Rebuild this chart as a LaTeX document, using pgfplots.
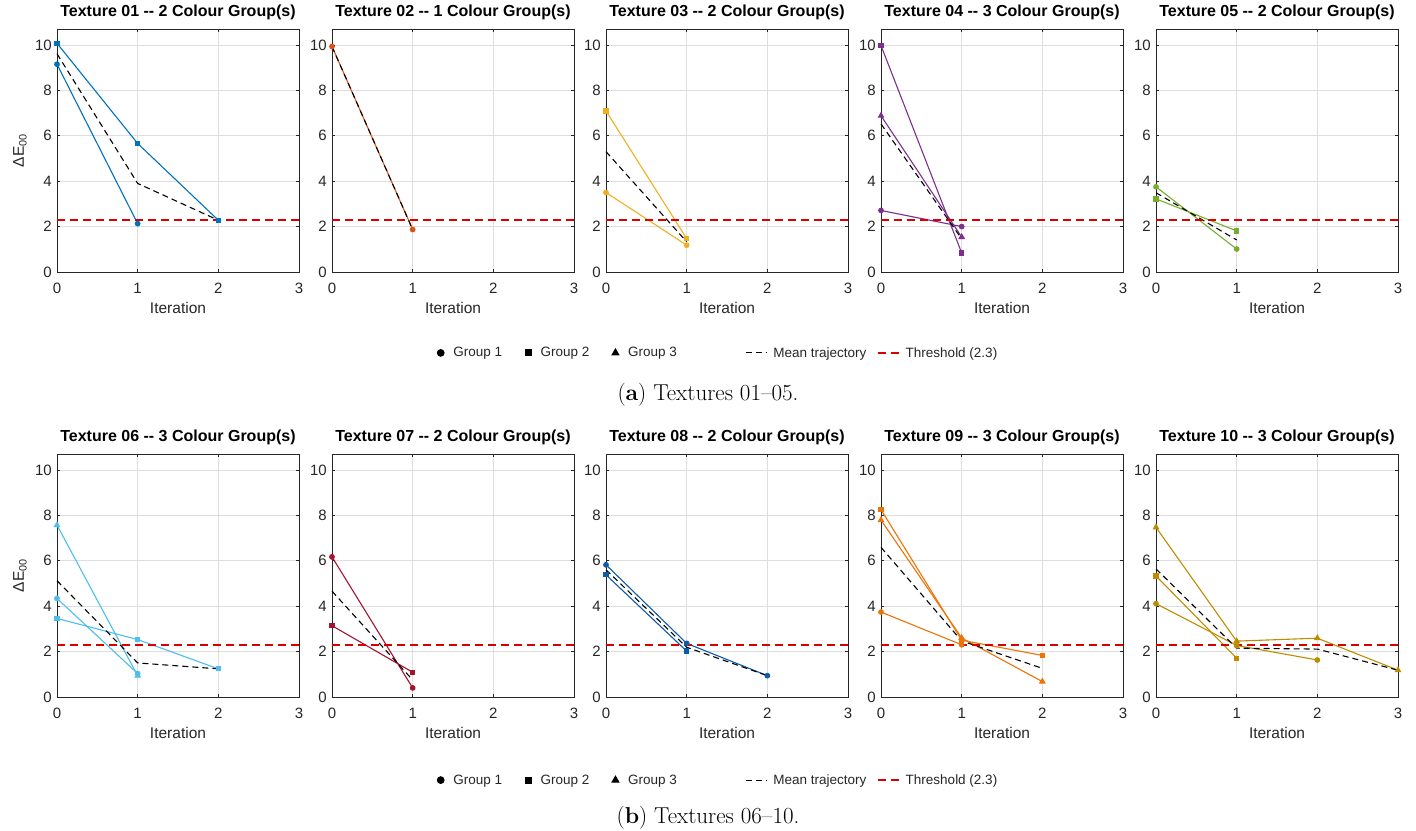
\documentclass[border=0pt]{standalone}
\usepackage{fontspec}
\usepackage{pgfplots}
\pgfplotsset{compat=1.18}
\newfontfamily\arialfont{Liberation Sans}

\definecolor{c01}{rgb}{0,0.447,0.741}
\definecolor{c02}{rgb}{0.85,0.325,0.098}
\definecolor{c03}{rgb}{0.929,0.694,0.125}
\definecolor{c04}{rgb}{0.494,0.184,0.556}
\definecolor{c05}{rgb}{0.466,0.674,0.188}
\definecolor{c06}{rgb}{0.301,0.745,0.933}
\definecolor{c07}{rgb}{0.635,0.078,0.184}
\definecolor{c08}{rgb}{0.05,0.36,0.66}
\definecolor{c09}{rgb}{0.93,0.45,0.02}
\definecolor{c10}{rgb}{0.75,0.55,0.0}
\definecolor{axgray}{gray}{0.15}
\definecolor{thrred}{rgb}{0.85,0.0,0.0}

\pgfplotsset{
  panel/.style={
    scale only axis, width=242pt, height=243pt,
    xmin=0, xmax=3, ymin=0, ymax=10.7,
    xtick={0,1,2,3}, ytick={0,2,...,10},
    grid=major, major grid style={draw=black!13, line width=0.7pt},
    axis line style={draw=axgray, line width=0.8pt},
    tick align=inside, major tick length=3pt,
    tick style={draw=axgray, line width=0.6pt},
    clip=false,
    /pgf/number format/assume math mode=true,
    tick label style={font=\arialfont\fontsize{15}{17}\selectfont, text=axgray},
    xticklabel style={anchor=center, yshift=-16pt, inner sep=0pt},
    yticklabel style={anchor=east, xshift=-5pt, inner sep=0pt},
    label style={font=\arialfont\fontsize{15.5}{17}\selectfont, text=axgray},
    xlabel={Iteration},
    xlabel style={at={(axis description cs:0.5,-0.148)}, anchor=center},
    ylabel style={at={(axis description cs:-0.153,0.5)}, anchor=center},
    title style={font=\arialfont\bfseries\fontsize{16}{18}\selectfont,
      at={(axis description cs:0.5,1)}, anchor=south, yshift=2.5pt, inner sep=0pt},
    every axis plot/.append style={line width=1.1pt},
  },
  g1/.style={mark=*, mark size=2.3pt},
  g2/.style={mark=square*, mark size=2.1pt},
  g3/.style={mark=triangle*, mark size=2.9pt},
  meanline/.style={color=black, line width=1.1pt, dash pattern=on 6pt off 4pt},
  thrline/.style={color=thrred, line width=1.5pt, dash pattern=on 8pt off 5pt},
  mleg/.style={legend image code/.code={\draw[##1] plot coordinates {(0pt,0pt)}; \path (-3.5pt,0pt) (9pt,0pt);}},
  lleg/.style={legend image code/.code={\draw[##1] (0pt,0pt) -- (21pt,0pt); \path (24pt,0pt);}},
  legbase/.style={legend cell align=left,
    legend style={anchor=west, draw=none, fill=none, inner sep=0pt, legend columns=-1,
      font=\arialfont\fontsize{13.5}{16}\selectfont, text=axgray, nodes={inner sep=3pt}}},
}

\begin{document}
\begin{tikzpicture}
\useasboundingbox (0pt,0pt) rectangle (1416pt,830pt);

% ---------- row (a) ----------
\begin{axis}[panel, at={(57pt,558pt)}, title={Texture 01 -{}- 2 Colour Group(s)},
  ylabel={ΔE\textsubscript{00}}, legbase,
  legend style={at={(axis description cs:1.568,-0.333)}, /tikz/every even column/.append style={column sep=19pt}}]
\addlegendimage{mleg, black, mark=*, mark size=3.3pt}\addlegendentry{Group 1}
\addlegendimage{mleg, black, mark=square*, mark size=3pt}\addlegendentry{Group 2}
\addlegendimage{mleg, black, mark=triangle*, mark size=3.8pt}\addlegendentry{Group 3}
\addplot[c01, g1] coordinates {(0,9.15)(1,2.13)};
\addplot[c01, g2] coordinates {(0,10.07)(1,5.66)(2,2.28)};
\addplot[meanline] coordinates {(0,9.61)(1,3.9)(2,2.28)};
\addplot[thrline] coordinates {(0,2.3)(3,2.3)};
\end{axis}

\begin{axis}[panel, at={(332pt,558pt)}, title={Texture 02 -{}- 1 Colour Group(s)}, legbase,
  legend style={at={(axis description cs:1.707,-0.333)}, /tikz/every even column/.append style={column sep=8pt}}]
\addlegendimage{lleg, black, line width=1.1pt, dash pattern=on 6pt off 4pt}\addlegendentry{Mean trajectory}
\addlegendimage{lleg, thrred, line width=1.3pt, dash pattern=on 8pt off 5pt}\addlegendentry{Threshold (2.3)}
\addplot[c02, g1] coordinates {(0,9.93)(1,1.87)};
\addplot[meanline] coordinates {(0,9.93)(1,1.87)};
\addplot[thrline] coordinates {(0,2.3)(3,2.3)};
\end{axis}

\begin{axis}[panel, at={(606pt,558pt)}, title={Texture 03 -{}- 2 Colour Group(s)}]
\addplot[c03, g1] coordinates {(0,3.5)(1,1.18)};
\addplot[c03, g2] coordinates {(0,7.09)(1,1.47)};
\addplot[meanline] coordinates {(0,5.3)(1,1.33)};
\addplot[thrline] coordinates {(0,2.3)(3,2.3)};
\end{axis}

\begin{axis}[panel, at={(881pt,558pt)}, title={Texture 04 -{}- 3 Colour Group(s)}]
\addplot[c04, g1] coordinates {(0,2.71)(1,2.0)};
\addplot[c04, g2] coordinates {(0,9.97)(1,0.84)};
\addplot[c04, g3] coordinates {(0,6.88)(1,1.54)};
\addplot[meanline] coordinates {(0,6.52)(1,1.46)};
\addplot[thrline] coordinates {(0,2.3)(3,2.3)};
\end{axis}

\begin{axis}[panel, at={(1156pt,558pt)}, title={Texture 05 -{}- 2 Colour Group(s)}]
\addplot[c05, g1] coordinates {(0,3.75)(1,1.01)};
\addplot[c05, g2] coordinates {(0,3.22)(1,1.81)};
\addplot[meanline] coordinates {(0,3.49)(1,1.41)};
\addplot[thrline] coordinates {(0,2.3)(3,2.3)};
\end{axis}

\node[anchor=center, font=\fontsize{23}{26}\selectfont] at (708pt,435pt) {(\textbf{a}) Textures 01--05.};

% ---------- row (b) ----------
\begin{axis}[panel, at={(57pt,133pt)}, title={Texture 06 -{}- 3 Colour Group(s)},
  ylabel={ΔE\textsubscript{00}}, legbase,
  legend style={at={(axis description cs:1.568,-0.342)}, /tikz/every even column/.append style={column sep=19pt}}]
\addlegendimage{mleg, black, mark=*, mark size=3.3pt}\addlegendentry{Group 1}
\addlegendimage{mleg, black, mark=square*, mark size=3pt}\addlegendentry{Group 2}
\addlegendimage{mleg, black, mark=triangle*, mark size=3.8pt}\addlegendentry{Group 3}
\addplot[c06, g1] coordinates {(0,4.34)(1,1.03)};
\addplot[c06, g2] coordinates {(0,3.46)(1,2.53)(2,1.24)};
\addplot[c06, g3] coordinates {(0,7.57)(1,0.94)};
\addplot[meanline] coordinates {(0,5.12)(1,1.5)(2,1.24)};
\addplot[thrline] coordinates {(0,2.3)(3,2.3)};
\end{axis}

\begin{axis}[panel, at={(332pt,133pt)}, title={Texture 07 -{}- 2 Colour Group(s)}, legbase,
  legend style={at={(axis description cs:1.707,-0.342)}, /tikz/every even column/.append style={column sep=8pt}}]
\addlegendimage{lleg, black, line width=1.1pt, dash pattern=on 6pt off 4pt}\addlegendentry{Mean trajectory}
\addlegendimage{lleg, thrred, line width=1.3pt, dash pattern=on 8pt off 5pt}\addlegendentry{Threshold (2.3)}
\addplot[c07, g1] coordinates {(0,6.17)(1,0.40)};
\addplot[c07, g2] coordinates {(0,3.14)(1,1.09)};
\addplot[meanline] coordinates {(0,4.66)(1,0.75)};
\addplot[thrline] coordinates {(0,2.3)(3,2.3)};
\end{axis}

\begin{axis}[panel, at={(606pt,133pt)}, title={Texture 08 -{}- 2 Colour Group(s)}]
\addplot[c08, g1] coordinates {(0,5.82)(1,2.36)(2,0.94)};
\addplot[c08, g2] coordinates {(0,5.38)(1,2.02)};
\addplot[meanline] coordinates {(0,5.6)(1,2.19)(2,0.94)};
\addplot[thrline] coordinates {(0,2.3)(3,2.3)};
\end{axis}

\begin{axis}[panel, at={(881pt,133pt)}, title={Texture 09 -{}- 3 Colour Group(s)}]
\addplot[c09, g1] coordinates {(0,3.74)(1,2.3)};
\addplot[c09, g2] coordinates {(0,8.25)(1,2.5)(2,1.83)};
\addplot[c09, g3] coordinates {(0,7.79)(1,2.6)(2,0.68)};
\addplot[meanline] coordinates {(0,6.59)(1,2.47)(2,1.26)};
\addplot[thrline] coordinates {(0,2.3)(3,2.3)};
\end{axis}

\begin{axis}[panel, at={(1156pt,133pt)}, title={Texture 10 -{}- 3 Colour Group(s)}]
\addplot[c10, g1] coordinates {(0,4.11)(1,2.27)(2,1.63)};
\addplot[c10, g2] coordinates {(0,5.33)(1,1.71)};
\addplot[c10, g3] coordinates {(0,7.47)(1,2.46)(2,2.59)(3,1.18)};
\addplot[meanline] coordinates {(0,5.64)(1,2.15)(2,2.11)(3,1.18)};
\addplot[thrline] coordinates {(0,2.3)(3,2.3)};
\end{axis}

\node[anchor=center, font=\fontsize{23}{26}\selectfont] at (708pt,12pt) {(\textbf{b}) Textures 06--10.};
\end{tikzpicture}
\end{document}
